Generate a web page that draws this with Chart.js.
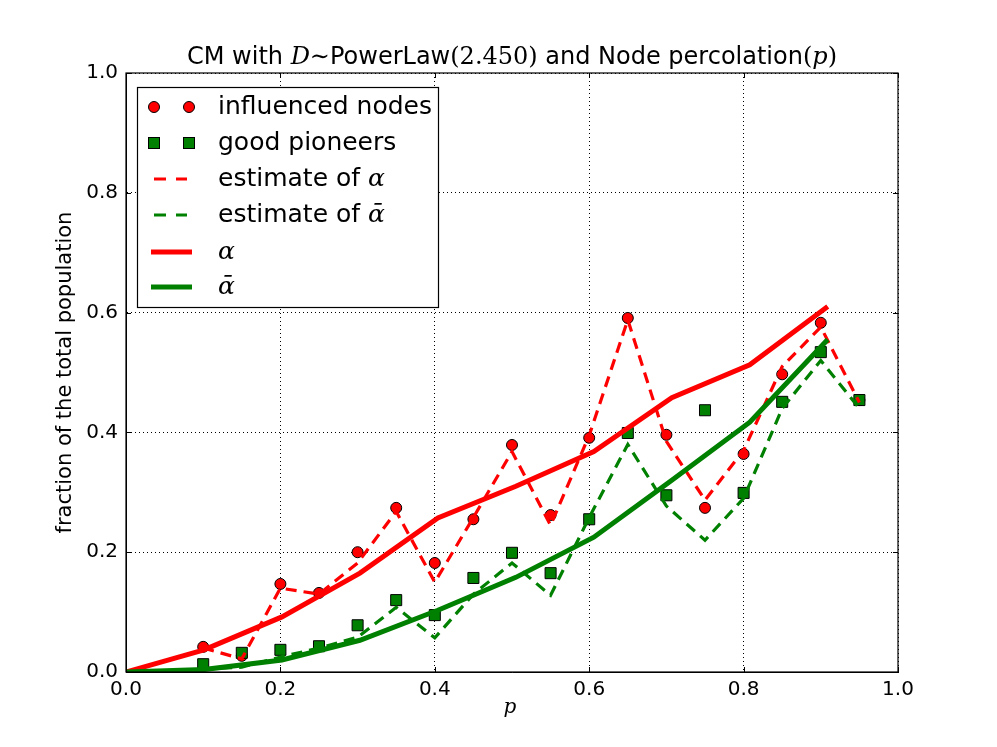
<!DOCTYPE html>
<html>
<head>
<meta charset="utf-8">
<script src="https://cdn.jsdelivr.net/npm/chart.js@4"></script>
<style>
  html, body { margin: 0; padding: 0; background: #fff; }
  #wrap { width: 997px; height: 747px; position: relative; }
</style>
</head>
<body>
<div id="wrap"><canvas id="c" width="997" height="747"></canvas></div>
<script>
// ---- data ----
const pValues = [0.10, 0.15, 0.20, 0.25, 0.30, 0.35, 0.40, 0.45, 0.50, 0.55, 0.60, 0.65, 0.70, 0.75, 0.80, 0.85, 0.90, 0.95];
const influencedNodes = [0.042, 0.027, 0.147, 0.132, 0.200, 0.274, 0.182, 0.255, 0.379, 0.262, 0.391, 0.591, 0.396, 0.274, 0.364, 0.497, 0.583, 0.454];
const goodPioneers    = [0.013, 0.032, 0.037, 0.043, 0.078, 0.120, 0.095, 0.157, 0.199, 0.165, 0.255, 0.399, 0.295, 0.437, 0.299, 0.451, 0.534, 0.454];
const estimateAlpha    = [0.040, 0.022, 0.140, 0.130, 0.182, 0.268, 0.150, 0.258, 0.368, 0.245, 0.395, 0.588, 0.385, 0.287, 0.370, 0.510, 0.576, 0.450];
const estimateAlphaBar = [0.005, 0.008, 0.025, 0.040, 0.058, 0.108, 0.057, 0.130, 0.182, 0.128, 0.258, 0.380, 0.277, 0.220, 0.290, 0.440, 0.520, 0.440];
const pTheory = [0.000, 0.101, 0.202, 0.303, 0.404, 0.505, 0.606, 0.707, 0.808, 0.909];
const alphaTheory    = [0.000, 0.037, 0.092, 0.165, 0.257, 0.310, 0.368, 0.458, 0.513, 0.610];
const alphaBarTheory = [0.000, 0.004, 0.020, 0.053, 0.103, 0.158, 0.225, 0.320, 0.417, 0.555];
const tickValues = [0.0, 0.2, 0.4, 0.6, 0.8, 1.0];
const legendLabels = ['influenced nodes', 'good pioneers', 'estimate of ', 'estimate of ', '', ''];
const legendMath = ['', '', 'α', 'ᾱ', 'α', 'ᾱ'];

const RED = '#ff0000', GREEN = '#008000';
const pts = (xs, ys) => xs.map((x, i) => ({ x: x, y: ys[i] }));

const SANS = '"DejaVu Sans", sans-serif';
const SERIF = '"DejaVu Serif", serif';

const frame = {
  id: 'frame',
  afterDraw(chart) {
    const ctx = chart.ctx, a = chart.chartArea;
    const xs = chart.scales.x, ys = chart.scales.y;
    ctx.save();
    // inward ticks on all four sides
    ctx.strokeStyle = '#000'; ctx.lineWidth = 1;
    ctx.beginPath();
    tickValues.forEach(v => {
      const px = Math.round(xs.getPixelForValue(v)) + 0.5;
      ctx.moveTo(px, a.bottom); ctx.lineTo(px, a.bottom - 5);
      ctx.moveTo(px, a.top); ctx.lineTo(px, a.top + 5);
      const py = Math.round(ys.getPixelForValue(v)) + 0.5;
      ctx.moveTo(a.left, py); ctx.lineTo(a.left + 5, py);
      ctx.moveTo(a.right, py); ctx.lineTo(a.right - 5, py);
    });
    ctx.stroke();
    ctx.lineWidth = 1.2;
    ctx.strokeRect(a.left, a.top, a.right - a.left, a.bottom - a.top);

    // title (mixed fonts)
    const fs = 24;
    const parts = [
      ['CM with ', fs + 'px ' + SANS],
      ['D', 'italic ' + fs + 'px ' + SERIF],
      ['∼', fs + 'px ' + SERIF],
      ['PowerLaw', fs + 'px ' + SANS],
      ['(2.450)', fs + 'px ' + SERIF],
      [' and Node percolation', fs + 'px ' + SANS],
      ['(', fs + 'px ' + SERIF],
      ['p', 'italic ' + fs + 'px ' + SERIF],
      [')', fs + 'px ' + SERIF]
    ];
    let total = 0;
    parts.forEach(p => { ctx.font = p[1]; total += ctx.measureText(p[0]).width; });
    let x = (a.left + a.right) / 2 - total / 2;
    ctx.fillStyle = '#000'; ctx.textBaseline = 'alphabetic'; ctx.textAlign = 'left';
    parts.forEach(p => { ctx.font = p[1]; ctx.fillText(p[0], x, 64); x += ctx.measureText(p[0]).width; });

    // axis labels
    ctx.font = 'italic 20px ' + SERIF; ctx.textAlign = 'center'; ctx.textBaseline = 'middle';
    ctx.fillText('p', (a.left + a.right) / 2 - 2, 708);
    ctx.save();
    ctx.translate(66, (a.top + a.bottom) / 2);
    ctx.rotate(-Math.PI / 2);
    ctx.font = '21px ' + SANS;
    ctx.fillText('fraction of the total population', 0, 0);
    ctx.restore();

    // legend
    const L = 137, T = 87, R = 438, B = 307;
    ctx.fillStyle = '#fff';
    ctx.fillRect(L, T, R - L, B - T);
    ctx.strokeStyle = '#000'; ctx.lineWidth = 1.2;
    ctx.strokeRect(L + 0.5, T + 0.5, R - L, B - T);
    const rows = [107, 143, 179, 215, 252, 287];
    rows.forEach((ry, i) => {
      ctx.save();
      if (i === 0) {
        [154, 189].forEach(cx => {
          ctx.beginPath(); ctx.arc(cx, ry, 5.5, 0, Math.PI * 2);
          ctx.fillStyle = RED; ctx.fill(); ctx.strokeStyle = '#000'; ctx.lineWidth = 1; ctx.stroke();
        });
      } else if (i === 1) {
        [154, 189].forEach(cx => {
          ctx.fillStyle = GREEN; ctx.fillRect(cx - 5.5, ry - 5.5, 11, 11);
          ctx.strokeStyle = '#000'; ctx.lineWidth = 1; ctx.strokeRect(cx - 5.5, ry - 5.5, 11, 11);
        });
      } else {
        ctx.beginPath();
        ctx.strokeStyle = (i === 2 || i === 4) ? RED : GREEN;
        if (i < 4) { ctx.lineWidth = 3; ctx.setLineDash([12, 10]); ctx.moveTo(154, ry); ctx.lineTo(187, ry); }
        else { ctx.lineWidth = 5; ctx.moveTo(151, ry); ctx.lineTo(192, ry); }
        ctx.stroke();
      }
      ctx.restore();
      ctx.fillStyle = '#000'; ctx.textAlign = 'left'; ctx.textBaseline = 'middle';
      ctx.font = '25px ' + SANS;
      ctx.fillText(legendLabels[i], 218, ry);
      const w = ctx.measureText(legendLabels[i]).width;
      if (legendMath[i]) {
        ctx.font = 'italic 25px ' + SERIF;
        ctx.fillText(legendMath[i], 218 + w, ry);
      }
    });
    ctx.restore();
  }
};

const axisCommon = {
  type: 'linear', min: 0, max: 1,
  ticks: {
    stepSize: 0.2, color: '#000',
    font: { family: 'DejaVu Sans', size: 20 },
    callback: v => Number(v).toFixed(1)
  },
  grid: { color: '#000', lineWidth: 1, drawTicks: false },
  border: { display: true, color: '#000', width: 1, dash: [1, 3] }
};

new Chart(document.getElementById('c'), {
  type: 'scatter',
  data: {
    datasets: [
      { label: 'influenced nodes', data: pts(pValues, influencedNodes), order: 6,
        pointStyle: 'circle', pointRadius: 5.5, backgroundColor: RED, borderColor: '#000', borderWidth: 1, showLine: false },
      { label: 'good pioneers', data: pts(pValues, goodPioneers), order: 5,
        pointStyle: 'rect', pointRadius: 7.8, backgroundColor: GREEN, borderColor: '#000', borderWidth: 1, showLine: false },
      { label: 'estimate of α', data: pts(pValues, estimateAlpha), order: 4, showLine: true,
        pointRadius: 0, borderColor: RED, borderWidth: 3.2, borderDash: [11, 7], fill: false },
      { label: 'estimate of ᾱ', data: pts(pValues, estimateAlphaBar), order: 3, showLine: true,
        pointRadius: 0, borderColor: GREEN, borderWidth: 3.2, borderDash: [11, 7], fill: false },
      { label: 'α', data: pts(pTheory, alphaTheory), order: 2, showLine: true,
        pointRadius: 0, borderColor: RED, borderWidth: 5, fill: false },
      { label: 'ᾱ', data: pts(pTheory, alphaBarTheory), order: 1, showLine: true,
        pointRadius: 0, borderColor: GREEN, borderWidth: 5, fill: false }
    ]
  },
  options: {
    responsive: false, animation: false, devicePixelRatio: 1,
    layout: { padding: { top: 73, right: 99, left: 0, bottom: 0 } },
    plugins: { legend: { display: false }, tooltip: { enabled: false }, title: { display: false } },
    scales: {
      x: Object.assign({}, axisCommon, {
        ticks: Object.assign({}, axisCommon.ticks, { padding: 6 }),
        afterFit: s => { s.height = 75; },
        afterBuildTicks: s => { s.ticks = tickValues.map(v => ({ value: v })); }
      }),
      y: Object.assign({}, axisCommon, {
        ticks: Object.assign({}, axisCommon.ticks, { padding: 8 }),
        afterFit: s => { s.width = 126; },
        afterBuildTicks: s => { s.ticks = tickValues.map(v => ({ value: v })); }
      })
    }
  },
  plugins: [frame]
});
</script>
</body>
</html>
